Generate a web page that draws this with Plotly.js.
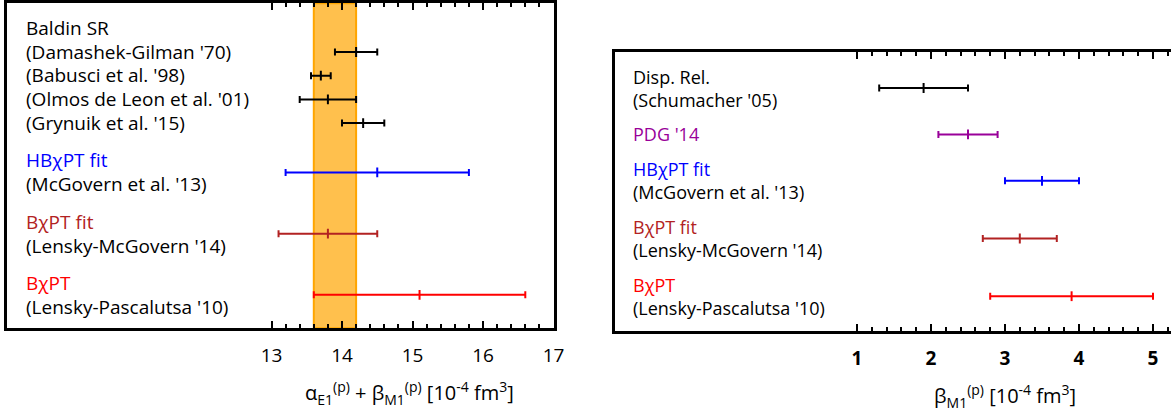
<!DOCTYPE html>
<html>
<head>
<meta charset="utf-8">
<script src="https://cdn.plot.ly/plotly-3.0.1.min.js"></script>
<style>
  html, body { margin: 0; padding: 0; background: #fff; }
  #chart { width: 1171px; height: 415px; }
</style>
</head>
<body>
<div id="chart"></div>
<script>
// ---- Proton polarizabilities: alpha_E1 + beta_M1 (left) and beta_M1 (right) ----

// Left panel: sum alpha + beta [10^-4 fm^3]
const sumGroups = ["Baldin SR", "HBχPT fit", "BχPT fit", "BχPT"];
const sumBarGroup = [0, 0, 0, 0, 1, 2, 3];
const sumRefs = [
  "(Damashek-Gilman '70)",
  "(Babusci et al. '98)",
  "(Olmos de Leon et al. '01)",
  "(Grynuik et al. '15)",
  "(McGovern et al. '13)",
  "(Lensky-McGovern '14)",
  "(Lensky-Pascalutsa '10)"
];
const sumValues = [14.2, 13.7, 13.8, 14.3, 14.5, 13.8, 15.1];
const sumErrors = [0.3, 0.14, 0.4, 0.3, 1.3, 0.7, 1.5];
const baldinBand = [13.6, 14.2];
const sumTicks = [13, 14, 15, 16, 17];

// Right panel: magnetic polarizability beta [10^-4 fm^3]
const betaGroups = ["Disp. Rel.", "PDG '14", "HBχPT fit", "BχPT fit", "BχPT"];
const betaBarGroup = [0, 1, 2, 3, 4];
const betaRefs = [
  "(Schumacher '05)",
  "",
  "(McGovern et al. '13)",
  "(Lensky-McGovern '14)",
  "(Lensky-Pascalutsa '10)"
];
const betaValues = [1.9, 2.5, 3.5, 3.2, 3.9];
const betaErrors = [0.6, 0.4, 0.5, 0.5, 1.1];
const betaTicks = [1, 2, 3, 4, 5];

// ---- styling ----
const sumColors = ["#000000", "#0000FF", "#B22222", "#FF0000"];
const betaColors = ["#000000", "#990099", "#0000FF", "#B22222", "#FF0000"];
const FONT = "'Open Sans', Lato, sans-serif";
const W = 1171, H = 415;

// Panel frames in pixels (left, right, top, bottom)
const leftBox = { x0: 7.3, x1: 553.5, y0: 3.3, y1: 328.3 };
const rightBox = { x0: 615.2, x1: 1171, y0: 51.7, y1: 331 };

// Lay out the label blocks and the bar rows of one panel.
// y values are pixel offsets from the top of the figure.
function layoutRows(groups, barGroup, refs, startY, lineH, gapH) {
  const blocks = [];
  const barY = new Array(barGroup.length);
  let y = startY;
  groups.forEach((g, gi) => {
    const head = y;
    const lines = [{ text: g, head: true }];
    const idx = barGroup.map((b, i) => (b === gi ? i : -1)).filter(i => i >= 0);
    let last = head;
    if (idx.length > 1) {
      idx.forEach(i => {
        last += lineH;
        lines.push({ text: refs[i], head: false });
        barY[i] = last;
      });
    } else if (idx.length === 1) {
      const i = idx[0];
      if (refs[i]) {
        last = head + lineH;
        lines.push({ text: refs[i], head: false });
        barY[i] = (head + last) / 2;
      } else {
        barY[i] = head;
      }
    }
    blocks.push({ group: gi, lines: lines, y: (head + last) / 2 });
    y = last + gapH;
  });
  return { blocks, barY };
}

const LEFT_LINE = 23.7, RIGHT_LINE = 22.6;
const leftRows = layoutRows(sumGroups, sumBarGroup, sumRefs, 28.3, LEFT_LINE, 37.5);
const rightRows = layoutRows(betaGroups, betaBarGroup, betaRefs, 76.7, RIGHT_LINE, 35.1);

// one trace per bar so each gets its own colour
function barTraces(values, errors, barY, barGroup, colors, xa, ya) {
  return values.map((v, i) => {
    const c = colors[barGroup[i]];
    return {
      type: "scatter", mode: "markers",
      x: [v], y: [barY[i]], xaxis: xa, yaxis: ya,
      marker: { symbol: "line-ns", size: 7, color: c, line: { color: c, width: 2 } },
      error_x: { type: "data", array: [errors[i]], color: c, thickness: 2, width: 3.5 },
      hoverinfo: "x", showlegend: false
    };
  });
}

const traces = [
  ...barTraces(sumValues, sumErrors, leftRows.barY, sumBarGroup, sumColors, "x", "y"),
  ...barTraces(betaValues, betaErrors, rightRows.barY, betaBarGroup, betaColors, "x2", "y2")
];

// axis value ranges so that the tick positions land where the frames need them
const leftPxPerUnit = (553.5 - 271.5) / 4;
const leftRange = [13 - (271.5 - leftBox.x0) / leftPxPerUnit, 17];
const rightPxPerUnit = (1153 - 857) / 4;
const rightRange = [1 - (857 - rightBox.x0) / rightPxPerUnit, 5 + (rightBox.x1 - 1153) / rightPxPerUnit];

function minorVals(a, b, step) {
  const out = [];
  for (let v = a; v <= b + 1e-9; v += step) out.push(+v.toFixed(3));
  return out;
}

function xAxis(box, range, ticks, minorEnd, bold, anchor) {
  return {
    anchor: anchor,
    domain: [box.x0 / W, box.x1 / W],
    range: range,
    showline: true, linecolor: "#000", linewidth: 3,
    mirror: "ticks",
    ticks: "inside", ticklen: 7, tickwidth: 2, tickcolor: "#000",
    tickmode: "array", tickvals: ticks, ticktext: ticks.map(String),
    ticklabelstandoff: 8,
    minor: { tickmode: "array", tickvals: minorVals(ticks[0], minorEnd, 0.2),
             ticks: "inside", ticklen: 4, tickwidth: 2, tickcolor: "#000", showgrid: false },
    showgrid: false, zeroline: false,
    tickfont: { family: FONT, size: 19, color: "#000", weight: bold ? "bold" : "normal" },
    fixedrange: true
  };
}

function yAxis(box, mirror, anchor) {
  return {
    anchor: anchor,
    domain: [(H - box.y1) / H, (H - box.y0) / H],
    range: [box.y1, box.y0],
    showline: true, linecolor: "#000", linewidth: 3, mirror: mirror,
    ticks: "", showticklabels: false, showgrid: false, zeroline: false,
    fixedrange: true
  };
}

// One text block per group: coloured heading, then the black references.
// Plotly spaces lines at 1.3 x the base font size, so the base size sets the
// line pitch and each line carries its own glyph size.
function textAnnotations(rows, colors, xPx, lineH, glyph) {
  return rows.blocks.map(b => ({
    xref: "paper", yref: "paper", x: xPx / W, y: (H - b.y) / H,
    xanchor: "left", yanchor: "middle", align: "left", showarrow: false,
    text: b.lines.map(l =>
      `<span style="font-size:${glyph}px;color:${l.head ? colors[b.group] : "#000"}">${l.text}</span>`
    ).join("<br>"),
    font: { family: FONT, size: lineH / 1.3, color: "#000" }
  }));
}

const annotations = [
  ...textAnnotations(leftRows, sumColors, 24, LEFT_LINE, 19),
  ...textAnnotations(rightRows, betaColors, 631, RIGHT_LINE, 18),
  {
    xref: "paper", yref: "paper", x: 409 / W, y: (H - 393) / H,
    xanchor: "center", yanchor: "middle", showarrow: false,
    text: "α<sub>E1</sub><sup>(p)</sup> + β<sub>M1</sub><sup>(p)</sup> [10<sup>-4</sup> fm<sup>3</sup>]",
    font: { family: FONT, size: 20, color: "#000" }
  },
  {
    xref: "paper", yref: "paper", x: 1005 / W, y: (H - 396) / H,
    xanchor: "center", yanchor: "middle", showarrow: false,
    text: "β<sub>M1</sub><sup>(p)</sup> [10<sup>-4</sup> fm<sup>3</sup>]",
    font: { family: FONT, size: 20, color: "#000" }
  }
];

const layout = {
  width: W, height: H,
  margin: { l: 0, r: 0, t: 0, b: 0, pad: 0 },
  paper_bgcolor: "#fff", plot_bgcolor: "#fff",
  showlegend: false,
  xaxis: xAxis(leftBox, leftRange, sumTicks, 17, false, "y"),
  yaxis: yAxis(leftBox, true, "x"),
  xaxis2: xAxis(rightBox, rightRange, betaTicks, 5.2, true, "y2"),
  yaxis2: yAxis(rightBox, false, "x2"),
  shapes: [
    {
      type: "rect", xref: "x", yref: "y domain",
      x0: baldinBand[0], x1: baldinBand[1], y0: 0, y1: 1,
      fillcolor: "#FFC04D", line: { color: "#FFA500", width: 2 }, layer: "below"
    }
  ],
  annotations: annotations
};

Plotly.newPlot("chart", traces, layout, { displayModeBar: false, staticPlot: true });
</script>
</body>
</html>
